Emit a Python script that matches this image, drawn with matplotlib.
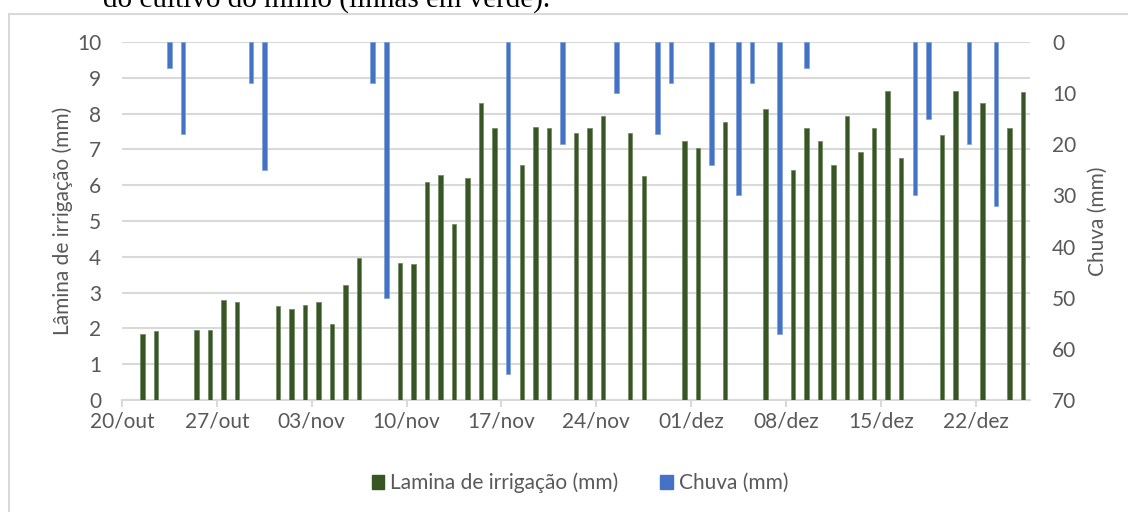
import matplotlib
matplotlib.use('Agg')
import matplotlib.pyplot as plt
from matplotlib.patches import Patch, Rectangle
import pandas as pd

plt.rcParams['font.family'] = ['Lato', 'DejaVu Sans']

# irrigação (lâmina, mm) por dia
irr_dates = ['2019-10-21', '2019-10-22', '2019-10-25', '2019-10-26', '2019-10-27',
             '2019-10-28', '2019-10-31', '2019-11-01', '2019-11-02', '2019-11-03',
             '2019-11-04', '2019-11-05', '2019-11-06', '2019-11-09', '2019-11-10',
             '2019-11-11', '2019-11-12', '2019-11-13', '2019-11-14', '2019-11-15',
             '2019-11-16', '2019-11-18', '2019-11-19', '2019-11-20', '2019-11-22',
             '2019-11-23', '2019-11-24', '2019-11-26', '2019-11-27', '2019-11-30',
             '2019-12-01', '2019-12-03', '2019-12-06', '2019-12-08', '2019-12-09',
             '2019-12-10', '2019-12-11', '2019-12-12', '2019-12-13', '2019-12-14',
             '2019-12-15', '2019-12-16', '2019-12-19', '2019-12-20', '2019-12-22',
             '2019-12-24', '2019-12-25']
irr_mm = [1.85, 1.92, 1.95, 1.95, 2.80, 2.73, 2.63, 2.55, 2.66, 2.73,
          2.13, 3.22, 3.96, 3.82, 3.81, 6.10, 6.28, 4.91, 6.21, 8.29,
          7.59, 6.56, 7.63, 7.59, 7.45, 7.59, 7.94, 7.45, 6.25, 7.23,
          7.03, 7.77, 8.12, 6.42, 7.59, 7.23, 6.56, 7.94, 6.92, 7.59,
          8.64, 6.75, 7.41, 8.64, 8.30, 7.59, 8.61]

# chuva (mm) por dia
rain_dates = ['2019-10-23', '2019-10-24', '2019-10-29', '2019-10-30', '2019-11-07',
              '2019-11-08', '2019-11-17', '2019-11-21', '2019-11-25', '2019-11-28',
              '2019-11-29', '2019-12-02', '2019-12-04', '2019-12-05', '2019-12-07',
              '2019-12-09', '2019-12-17', '2019-12-18', '2019-12-21', '2019-12-23']
rain_mm = [5, 18, 8, 25, 8, 50, 65, 20, 10, 18,
           8, 24, 30, 8, 57, 5, 30, 15, 20, 32]

meses = {10: 'out', 11: 'nov', 12: 'dez'}

green = '#375623'
blue = '#4472C4'
gray = '#595959'

# barras centradas no meio do dia (eixo de datas do Excel)
half = pd.Timedelta(hours=12)
x_irr = pd.to_datetime(irr_dates) + half
x_rain = pd.to_datetime(rain_dates) + half

fig = plt.figure(figsize=(11.28, 5.12), dpi=100)
ax1 = fig.add_axes([122 / 1128, 1 - 400 / 512, (1030 - 122) / 1128, 358 / 512])

# moldura do gráfico e legenda do documento cortada no topo
fig.patches.append(Rectangle((9 / 1128, -0.1), 1.2, 1 - 14 / 512 + 0.1,
                             transform=fig.transFigure, fill=False,
                             edgecolor='#d9d9d9', linewidth=1.5, zorder=0))
fig.text(103 / 1128, 1 - 7 / 512, 'do cultivo do milho (linhas em verde).',
         family='Liberation Serif', fontsize=21, color='black', va='baseline')

ax1.bar(x_irr, irr_mm, width=0.33, color=green, edgecolor='#6d8560',
        linewidth=0.5, zorder=3)
ax1.set_ylim(0, 10)
ax1.set_yticks(range(0, 11))
ax1.grid(axis='y', color='#d9d9d9', linewidth=1.5, zorder=0)
ax1.set_axisbelow(True)
ax1.set_ylabel('Lâmina de irrigação (mm)', fontsize=15, color=gray, labelpad=3)

ax2 = ax1.twinx()
ax2.bar(x_rain, rain_mm, width=0.33, color=blue, edgecolor='#7d9fd8',
        linewidth=0.5, zorder=3)
ax2.set_ylim(70, 0)
ax2.set_yticks(range(0, 71, 10))
ax2.set_ylabel('Chuva (mm)', fontsize=15, color=gray, labelpad=8)

start = pd.Timestamp('2019-10-20')
ax1.set_xlim(start, start + pd.Timedelta(days=67))
ticks = pd.date_range(start, periods=10, freq='7D')
ax1.set_xticks(ticks)
ax1.set_xticklabels([f'{t.day:02d}/{meses[t.month]}' for t in ticks])

for ax in (ax1, ax2):
    for side in ('top', 'left', 'right'):
        ax.spines[side].set_visible(False)
    ax.tick_params(axis='y', length=0, labelsize=15, labelcolor=gray)
ax2.spines['bottom'].set_visible(False)
ax1.spines['bottom'].set_color('#d9d9d9')
ax1.spines['bottom'].set_linewidth(1.5)
ax1.tick_params(axis='x', length=5, width=1.5, color='#d9d9d9',
                labelsize=15, labelcolor=gray, pad=3)
ax1.tick_params(axis='y', pad=15)
ax2.tick_params(axis='y', pad=16)

handles = [Patch(color=green, label='Lamina de irrigação (mm)'),
           Patch(color=blue, label='Chuva (mm)')]
fig.legend(handles=handles, loc='center', bbox_to_anchor=(580 / 1128, 1 - 483 / 512),
           ncol=2, frameon=False, fontsize=15, handlelength=0.6, handleheight=0.6,
           handletextpad=0.3, columnspacing=2.0, labelcolor=gray)

fig.savefig('out.png', dpi=100)
